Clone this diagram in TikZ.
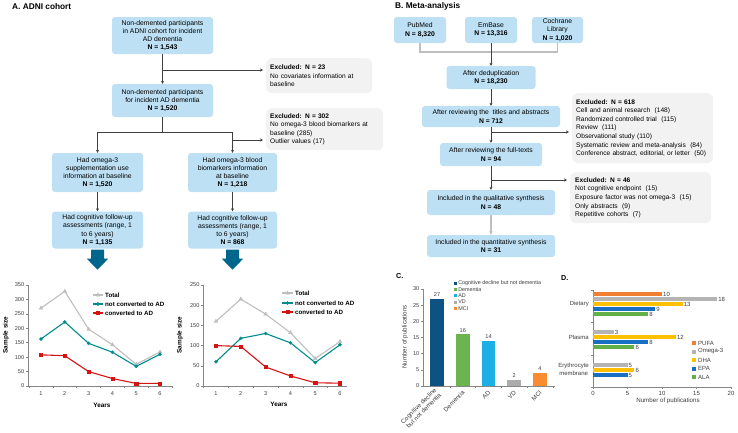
\documentclass[tikz,border=0pt]{standalone}
\usepackage{fontspec}
\setmainfont{Liberation Sans}
\usetikzlibrary{arrows.meta,calc,plotmarks}

\definecolor{boxblue}{RGB}{189,224,244}
\definecolor{exgray}{RGB}{242,242,242}
\definecolor{linegray}{RGB}{64,64,64}
\definecolor{lightline}{RGB}{190,190,190}
\definecolor{bigblue}{RGB}{0,102,140}
\definecolor{axisgray}{RGB}{134,134,134}
\definecolor{labgray}{RGB}{60,60,60}
\definecolor{cTotal}{RGB}{190,190,190}
\definecolor{cTeal}{RGB}{0,140,140}
\definecolor{cRed}{RGB}{212,20,20}
\definecolor{cCog}{RGB}{14,82,132}
\definecolor{cDem}{RGB}{108,180,80}
\definecolor{cAD}{RGB}{28,176,230}
\definecolor{cVD}{RGB}{172,172,172}
\definecolor{cMCI}{RGB}{250,140,48}
\definecolor{cPufa}{RGB}{240,128,48}
\definecolor{cOmega}{RGB}{180,180,180}
\definecolor{cDha}{RGB}{255,192,0}
\definecolor{cEpa}{RGB}{24,112,196}
\definecolor{cAla}{RGB}{100,176,72}

\begin{document}
\begin{tikzpicture}[x=1pt,y=-1pt,
  box/.style={fill=boxblue,rounded corners=3pt,align=center,inner sep=1pt,
    font=\fontsize{6.8}{8.2}\selectfont},
  exbox/.style={fill=exgray,rounded corners=6pt,align=left,anchor=north west,
    inner sep=4pt,font=\fontsize{6.6}{8.6}\selectfont},
  flow/.style={draw=linegray,line width=0.6pt,-{Stealth[length=3pt,width=3pt]}},
  flowlight/.style={draw=lightline,line width=1.2pt,-{Stealth[length=3.5pt,width=3.5pt]}},
  joint/.style={draw=linegray,line width=0.6pt},
  bracket/.style={draw=lightline,line width=1.2pt},
  axis/.style={draw=axisgray,line width=0.6pt},
  ticklab/.style={font=\fontsize{5.6}{6}\selectfont,text=labgray,inner sep=1pt},
  axlab/.style={font=\bfseries\fontsize{6.4}{7}\selectfont,inner sep=0pt},
  legtxt/.style={font=\bfseries\fontsize{6.2}{7}\selectfont,anchor=west,inner sep=1pt},
  smalltxt/.style={font=\fontsize{5.6}{6.4}\selectfont,text=labgray,inner sep=1pt},
  title/.style={font=\bfseries\fontsize{8.3}{9}\selectfont,anchor=west,inner sep=0pt},
  totline/.style={draw=cTotal,line width=1.1pt,mark=triangle*,mark size=2.2pt,
    mark options={fill=cTotal,draw=cTotal,line width=0.3pt}},
  nocline/.style={draw=cTeal,line width=1.1pt,mark=*,mark size=1.6pt,
    mark options={fill=cTeal,draw=cTeal,line width=0.3pt}},
  adline/.style={draw=cRed,line width=1.1pt,mark=square*,mark size=1.6pt,
    mark options={fill=cRed,draw=cRed,line width=0.3pt}}]

\useasboundingbox (0,0) rectangle (738,432);

% ===== A. ADNI cohort =====
\node[title] (titA) at (12,7) {A. ADNI cohort};

\node[box,minimum width=101pt,minimum height=37pt] (adni) at (162.5,35.5)
  {Non-demented participants\\in ADNI cohort for incident\\AD dementia\\\textbf{N = 1,543}};
\node[box,minimum width=101pt,minimum height=33pt] (incid) at (162.5,100.5)
  {Non-demented participants\\for incident AD dementia\\\textbf{N = 1,520}};
\node[box,minimum width=91pt,minimum height=39pt] (supp) at (97.5,172.5)
  {Had omega-3\\supplementation use\\information at baseline\\\textbf{N = 1,520}};
\node[box,minimum width=89pt,minimum height=39pt] (blood) at (232.5,172.5)
  {Had omega-3 blood\\biomarkers information\\at baseline\\\textbf{N = 1,218}};
\node[box,minimum width=91pt,minimum height=37pt] (fupS) at (97.5,230)
  {Had cognitive follow-up\\assessments (range, 1\\to 6 years)\\\textbf{N = 1,135}};
\node[box,minimum width=89pt,minimum height=37pt] (fupB) at (232.5,230)
  {Had cognitive follow-up\\assessments (range, 1\\to 6 years)\\\textbf{N = 868}};

\node[exbox,minimum width=106pt,minimum height=35pt,text width=98pt] (ex23) at (266,58)
  {\textbf{Excluded: N = 23}\\No covariates information at\\baseline};
\node[exbox,minimum width=117pt,minimum height=42pt,text width=109pt] (ex302) at (266,108)
  {\textbf{Excluded: N = 302}\\No omega-3 blood biomarkers at\\baseline (285)\\Outlier values (17)};

% ---- connectors ----
\coordinate (j23) at (162.5,70);
\coordinate (split) at (162.5,132);
\coordinate (j302) at (232.5,140);
\draw[flow] (adni) -- (incid);
\draw[flow,shorten >=3pt] (j23) -- (j23 -| ex23.west);
\draw[joint] (incid) -- (split);
\draw[joint] (split -| supp) -- (split -| blood);
\draw[flow] (split -| supp) -- (supp);
\draw[flow] (split -| blood) -- (blood);
\draw[flow,shorten >=3pt] (j302) -- (j302 -| ex302.west);
\draw[flow] (supp) -- (fupS);
\draw[flow] (blood) -- (fupB);

% ---- big arrows to the charts ----
\foreach \n in {fupS,fupB}
  \fill[bigblue] ($(\n.south)+(-6.5,1)$) -- ++(0,9) -- ++(-4.2,0) -- ++(10.7,11)
    -- ++(10.7,-11) -- ++(-4.2,0) -- ++(0,-9) -- cycle;

% ---- line chart, supplementation ----
\begin{scope}[shift={(17.2,386)},x=23.8pt,y=0.2886pt]
  \draw[axis] (0.45,0) -- (6.5,0);
  \draw[axis] (0.45,0) -- (0.45,350);
  \foreach \v in {0,50,...,350} {
    \draw[axis] (0.45,\v) -- ++(-2pt,0);
    \node[ticklab,anchor=east] (sl\v) at ($(0.45,\v)+(-2.5pt,0)$) {\v};
  }
  \foreach \i in {0.5,1.5,...,6.5}
    \draw[axis] (\i,0) -- ++(0,-2pt);
  \foreach \i in {1,...,6}
    \node[ticklab,anchor=north] (sy\i) at ($(\i,0)+(0,-4pt)$) {\i};
  \draw[totline] plot coordinates {(1,270) (2,328) (3,197) (4,143) (5,75) (6,118)};
  \draw[nocline] plot coordinates {(1,163) (2,222) (3,148) (4,117) (5,68) (6,110)};
  \draw[adline] plot coordinates {(1,108) (2,105) (3,50) (4,26) (5,9) (6,9)};
\end{scope}
\node[axlab,rotate=90] (ssA) at (6,335) {Sample size};
\node[axlab] (yrA) at (102,405) {Years};
\draw[totline,mark indices={2}] plot coordinates {(93,295) (98,295) (103,295)};
\draw[nocline,mark indices={2}] plot coordinates {(93,304) (98,304) (103,304)};
\draw[adline,mark indices={2}] plot coordinates {(93,313) (98,313) (103,313)};
\node[legtxt] (lgA1) at (104,295) {Total};
\node[legtxt] (lgA2) at (104,304) {not converted to AD};
\node[legtxt] (lgA3) at (104,313) {converted to AD};

% ---- line chart, blood biomarkers ----
\begin{scope}[shift={(191.2,386)},x=24.8pt,y=0.404pt]
  \draw[axis] (0.48,0) -- (6.3,0);
  \draw[axis] (0.48,0) -- (0.48,250);
  \foreach \v in {0,50,...,250} {
    \draw[axis] (0.48,\v) -- ++(-2pt,0);
    \node[ticklab,anchor=east] (bl\v) at ($(0.48,\v)+(-2.5pt,0)$) {\v};
  }
  \foreach \i in {0.5,1.5,...,5.5}
    \draw[axis] (\i,0) -- ++(0,-2pt);
  \foreach \i in {1,...,6}
    \node[ticklab,anchor=north] (by\i) at ($(\i,0)+(0,-4pt)$) {\i};
  \draw[totline] plot coordinates {(1,160) (2,215) (3,178) (4,132) (5,68) (6,110)};
  \draw[nocline] plot coordinates {(1,60) (2,118) (3,130) (4,107) (5,58) (6,102)};
  \draw[adline] plot coordinates {(1,100) (2,98) (3,47) (4,25) (5,8) (6,7)};
\end{scope}
\node[axlab,rotate=90] (ssB) at (180,335) {Sample size};
\node[axlab] (yrB) at (279,404) {Years};
\draw[totline,mark indices={2}] plot coordinates {(282,293) (287.5,293) (293,293)};
\draw[nocline,mark indices={2}] plot coordinates {(282,303) (287.5,303) (293,303)};
\draw[adline,mark indices={2}] plot coordinates {(282,312) (287.5,312) (293,312)};
\node[legtxt] (lgB1) at (294,293) {Total};
\node[legtxt] (lgB2) at (294,303) {not converted to AD};
\node[legtxt] (lgB3) at (294,312) {converted to AD};

% ===== B. Meta-analysis =====
\node[title] (titB) at (395,6) {B. Meta-analysis};

\node[box,minimum width=52pt,minimum height=26pt] (pubmed) at (420,30)
  {PubMed\\\textbf{N = 8,320}};
\node[box,minimum width=52pt,minimum height=26pt] (embase) at (491,30)
  {EmBase\\\textbf{N = 13,316}};
\node[box,minimum width=51pt,minimum height=26pt] (cochrane) at (557.5,30)
  {Cochrane\\Library\\\textbf{N = 1,020}};
\node[box,minimum width=89pt,minimum height=23pt] (dedup) at (491,77.5)
  {After deduplication\\\textbf{N = 18,230}};
\node[box,minimum width=138pt,minimum height=21pt] (screen) at (491,116.5)
  {After reviewing the\ \ titles and abstracts\\\textbf{N = 712}};
\node[box,minimum width=102pt,minimum height=23pt] (fulltext) at (491,154.5)
  {After reviewing the full-texts\\\textbf{N = 94}};
\node[box,minimum width=128pt,minimum height=25pt] (qual) at (491,202.5)
  {Included in the qualitative synthesis\\\textbf{N = 48}};
\node[box,minimum width=128pt,minimum height=22pt] (quant) at (491,246)
  {Included in the quantitative synthesis\\\textbf{N = 31}};

\node[exbox,minimum width=141pt,minimum height=70pt,text width=133pt] (ex618) at (572,93)
  {\textbf{Excluded: N = 618}\\Cell and animal research\ \ (148)\\Randomized controlled trial\ \ (115)\\
   Review\ \ (111)\\Observational study (110)\\Systematic review and meta-analysis\ \ (84)\\
   Conference abstract, editorial, or letter\ \ (50)};
\node[exbox,minimum width=141pt,minimum height=51pt,text width=131pt,inner xsep=5pt] (ex46) at (570,172)
  {\textbf{Excluded: N = 46}\\Not cognitive endpoint\ \ (15)\\Exposure factor was not omega-3\ \ (15)\\
   Only abstracts\ \ (9)\\Repetitive cohorts\ \ (7)};

% ---- connectors ----
\coordinate (merge) at (491,52);
\coordinate (j618) at (491,132);
\coordinate (j46) at (491,180);
\draw[bracket] (pubmed.south) |- (merge) -| (cochrane.south);
\draw[flow] (embase) -- (dedup);
\draw[flow] (dedup) -- (screen);
\draw[flow] (screen) -- (fulltext);
\draw[flow,shorten >=3pt] (j618) -- (j618 -| ex618.west);
\draw[flow] (fulltext) -- (qual);
\draw[flow,shorten >=3pt] (j46) -- (j46 -| ex46.west);
\draw[flowlight] (qual) -- (quant);

% ===== C. outcomes =====
\node[title,font=\bfseries\fontsize{7.2}{8}\selectfont] (titC) at (396,276) {C.};
\begin{scope}[shift={(411.25,386)},x=25.75pt,y=3.233pt]
  \draw[axis] (0.456,0) -- (5.58,0);
  \draw[axis] (0.456,0) -- (0.456,30);
  \foreach \v in {0,5,...,30} {
    \draw[axis] (0.456,\v) -- ++(-2pt,0);
    \node[ticklab,anchor=east] (cl\v) at ($(0.456,\v)+(-2.5pt,0)$) {\v};
  }
  \foreach \i in {1.5,2.5,...,5.5}
    \draw[axis] (\i,0) -- ++(0,-2pt);
  \foreach \i/\v/\c in {1/27/cCog,2/16/cDem,3/14/cAD,4/2/cVD,5/4/cMCI} {
    \fill[\c] (\i-0.27,0) rectangle (\i+0.27,\v);
    \node[ticklab,anchor=south] (cv\i) at ($(\i,\v)+(0,1pt)$) {\v};
  }
  \foreach \i/\t in {1/{Cognitive decline\\but not dementia},2/Dementia,3/AD,4/VD,5/MCI}
    \node[smalltxt,rotate=45,anchor=east,align=right,font=\fontsize{6.2}{6.8}\selectfont]
      (cx\i) at ($(\i,0)+(1.5pt,-5pt)$) {\t};
\end{scope}
\node[smalltxt,rotate=90,font=\fontsize{6.2}{7}\selectfont] (cyl) at (405,337) {Number of publications};
\foreach \t/\c [count=\k from 0] in {Cognitive decline but not dementia/cCog,Dementia/cDem,AD/cAD,VD/cVD,MCI/cMCI} {
  \fill[\c] (453.5,281.6+6.3*\k) rectangle ++(3.2,3.2);
  \node[smalltxt,anchor=west,inner sep=0.5pt,font=\fontsize{5.4}{6}\selectfont] (lc\k) at (457.6,283.2+6.3*\k) {\t};
}

% ===== D. biomarkers =====
\node[title,font=\bfseries\fontsize{7.2}{8}\selectfont] (titD) at (561,278) {D.};
\begin{scope}[shift={(593,0)},x=6.9pt]
  \draw[axis] (0,387) -- (20,387);
  \draw[axis] (0,290) -- (0,387);
  \foreach \y in {290,322,355,387}
    \draw[axis] (0,\y) -- ++(-2pt,0);
  \foreach \v in {0,5,...,20} {
    \draw[axis] (\v,387) -- ++(0,2);
    \node[ticklab,anchor=north,font=\fontsize{6}{7}\selectfont] (dx\v) at (\v,390) {\v};
  }
  \foreach \v/\y/\c [count=\k] in {10/294/cPufa,18/299/cOmega,13/304/cDha,9/309/cEpa,8/314/cAla,
      3/332/cOmega,12/337/cDha,8/342/cEpa,6/347/cAla,5/365/cOmega,6/370/cDha,5/375/cEpa} {
    \fill[\c] (0,\y-2.2) rectangle (\v,\y+2.2);
    \node[ticklab,anchor=west,font=\fontsize{6}{7}\selectfont] (dv\k) at (\v,\y) {\v};
  }
  \node[smalltxt,anchor=east,align=center,font=\fontsize{6}{7.4}\selectfont] (dg1) at ($(0,304)+(-3pt,0)$) {Dietary};
  \node[smalltxt,anchor=east,align=center,font=\fontsize{6}{7.4}\selectfont] (dg2) at ($(0,337)+(-3pt,0)$) {Plasma};
  \node[smalltxt,anchor=east,align=center,font=\fontsize{6}{7.4}\selectfont] (dg3) at ($(0,369.5)+(-3pt,0)$) {Erythrocyte\\membrane};
\end{scope}
\node[smalltxt,font=\fontsize{6.2}{7}\selectfont] (dxl) at (668,401) {Number of publications};
\foreach \t/\c [count=\k from 0] in {PUFA/cPufa,Omega-3/cOmega,DHA/cDha,EPA/cEpa,ALA/cAla} {
  \fill[\c] (692,341+8.5*\k) rectangle ++(4,4);
  \node[smalltxt,anchor=west,font=\fontsize{6}{7}\selectfont] (ld\k) at (697,343+8.5*\k) {\t};
}

\end{tikzpicture}
\end{document}
